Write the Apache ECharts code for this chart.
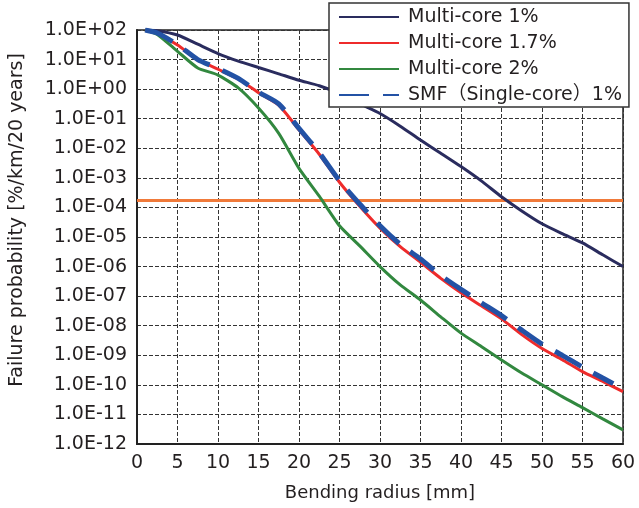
<!DOCTYPE html>
<html>
<head>
<meta charset="utf-8">
<script src="https://cdn.jsdelivr.net/npm/echarts@6/dist/echarts.min.js"></script>
<style>
  html, body { margin: 0; padding: 0; background: #fff; }
  #main { width: 639px; height: 508px; }
</style>
</head>
<body>
<div id="main"></div>
<script>
// bending radius [mm]
const radius = [1, 2.5, 5, 7.5, 10, 12.5, 15, 17.5, 20, 22.5, 25, 27.5, 30,
  32.5, 35, 37.5, 40, 42.5, 45, 47.5, 50, 52.5, 55, 57.5, 60];
const smfRadius = [1, 2.5, 5, 7.5, 10, 12.5, 15, 17.5, 20, 22.5, 25, 27.5, 30,
  32.5, 35, 37.5, 40, 42.5, 45, 47.5, 50, 52.5, 55, 57.5, 58.8];

// failure probability [%/km/20 years]
const multiCore1 = [1.0e2, 9.5e1, 6.8e1, 3.3e1, 1.6e1, 8.9e0, 5.4e0, 3.3e0, 2.0e0, 1.3e0,
  7.1e-1, 3.2e-1, 1.5e-1, 5.6e-2, 1.9e-2, 6.8e-3, 2.4e-3, 7.9e-4, 2.3e-4, 7.6e-5,
  2.8e-5, 1.3e-5, 6.3e-6, 2.5e-6, 1.0e-6];
const multiCore17 = [1.0e2, 7.6e1, 3.1e1, 1.0e1, 4.7e0, 2.2e0, 7.6e-1, 2.9e-1, 4.2e-2, 6.3e-3,
  7.1e-4, 1.1e-4, 2.0e-5, 4.7e-6, 1.4e-6, 4.0e-7, 1.3e-7, 4.7e-8, 1.7e-8, 5.0e-9,
  1.7e-9, 7.1e-10, 2.8e-10, 1.3e-10, 5.9e-11];
const multiCore2 = [1.0e2, 7.1e1, 1.9e1, 5.2e0, 3.0e0, 1.1e0, 2.3e-1, 3.2e-2, 2.1e-3, 2.4e-4,
  2.4e-5, 5.0e-6, 1.0e-6, 2.4e-7, 7.4e-8, 2.0e-8, 5.6e-9, 2.0e-9, 6.9e-10, 2.5e-10,
  1.0e-10, 4.0e-11, 1.7e-11, 7.1e-12, 3.0e-12];
const smf1 = [1.0e2, 7.9e1, 3.2e1, 1.0e1, 5.0e0, 2.3e0, 7.9e-1, 3.2e-1, 4.7e-2, 7.1e-3,
  7.9e-4, 1.3e-4, 2.4e-5, 5.6e-6, 1.8e-6, 5.0e-7, 1.7e-7, 6.0e-8, 2.2e-8, 7.1e-9,
  2.4e-9, 1.0e-9, 4.0e-10, 1.7e-10, 1.1e-10];

// allowed failure level (orange line)
const limitRadius = [0, 60];
const limitLevel = [1.7e-4, 1.7e-4];

const seriesNames = ['Multi-core 1%', 'Multi-core 1.7%', 'Multi-core 2%', 'SMF（Single-core）1%'];

const font = 'DejaVu Sans, Noto Sans CJK JP, sans-serif';

function pairs(xs, ys) {
  return xs.map((x, i) => [x, ys[i]]);
}

function expLabel(value) {
  const e = Math.round(Math.log10(value));
  return '1.0E' + (e >= 0 ? '+' : '-') + String(Math.abs(e)).padStart(2, '0');
}

const gridLine = { show: true, lineStyle: { color: '#333', type: [4, 2], width: 1 } };

const myChart = echarts.init(document.getElementById('main'), null, { renderer: 'canvas' });

const option = {
  animation: false,
  backgroundColor: '#fff',
  grid: {
    left: 137, right: 16, top: 30, bottom: 64,
    show: true, borderColor: '#222', borderWidth: 1.5
  },
  legend: {
    data: seriesNames,
    orient: 'vertical',
    left: 329,
    top: 3,
    itemWidth: 60,
    itemHeight: 14,
    itemGap: 6,
    padding: [4, 7, 2, 9],
    backgroundColor: '#fff',
    borderColor: '#333',
    borderWidth: 1.5,
    borderRadius: 0,
    itemStyle: { color: 'rgba(0,0,0,0)', borderColor: 'rgba(0,0,0,0)', borderWidth: 0 },
    textStyle: { fontFamily: font, fontSize: 19, color: '#231f20', lineHeight: 20, padding: [0, 0, 0, 4] }
  },
  xAxis: {
    type: 'value',
    min: 0,
    max: 60,
    interval: 5,
    name: 'Bending radius [mm]',
    nameLocation: 'middle',
    nameGap: 40,
    nameTextStyle: { fontFamily: font, fontSize: 18, color: '#231f20' },
    axisLine: { lineStyle: { color: '#222', width: 2 } },
    axisTick: { show: false },
    axisLabel: { fontFamily: font, fontSize: 19, color: '#231f20', margin: 10 },
    splitLine: gridLine
  },
  yAxis: {
    type: 'log',
    logBase: 10,
    min: 1e-12,
    max: 1e2,
    interval: 1,
    axisLine: { show: true, lineStyle: { color: '#222', width: 2 } },
    axisTick: { show: false },
    axisLabel: { fontFamily: font, fontSize: 19, color: '#231f20', margin: 10, formatter: expLabel },
    splitLine: gridLine
  },
  graphic: [{
    type: 'text',
    x: 17,
    y: 220,
    rotation: Math.PI / 2,
    style: {
      text: 'Failure probability [%/km/20 years]',
      fontFamily: font,
      fontSize: 19,
      fill: '#231f20',
      align: 'center',
      verticalAlign: 'middle'
    }
  }],
  series: [
    {
      name: 'limit',
      type: 'line',
      symbol: 'none',
      silent: true,
      data: pairs(limitRadius, limitLevel),
      lineStyle: { color: '#f07a3a', width: 3 },
      itemStyle: { color: '#f07a3a' },
      z: 2
    },
    {
      name: seriesNames[0],
      type: 'line',
      symbol: 'none',
      smooth: 0.2,
      data: pairs(radius, multiCore1),
      lineStyle: { color: '#2a2c5e', width: 3 },
      itemStyle: { color: '#2a2c5e' },
      z: 3
    },
    {
      name: seriesNames[1],
      type: 'line',
      symbol: 'none',
      smooth: 0.2,
      data: pairs(radius, multiCore17),
      lineStyle: { color: '#ee2b2b', width: 3 },
      itemStyle: { color: '#ee2b2b' },
      z: 3
    },
    {
      name: seriesNames[2],
      type: 'line',
      symbol: 'none',
      smooth: 0.2,
      data: pairs(radius, multiCore2),
      lineStyle: { color: '#32883f', width: 3 },
      itemStyle: { color: '#32883f' },
      z: 3
    },
    {
      name: seriesNames[3],
      type: 'line',
      symbol: 'none',
      smooth: 0.2,
      data: pairs(smfRadius, smf1),
      lineStyle: { color: '#2352a5', width: 5, type: [30, 14] },
      itemStyle: { color: '#2352a5' },
      z: 4
    }
  ]
};

myChart.setOption(option);
window.addEventListener('resize', () => myChart.resize());
</script>
</body>
</html>
